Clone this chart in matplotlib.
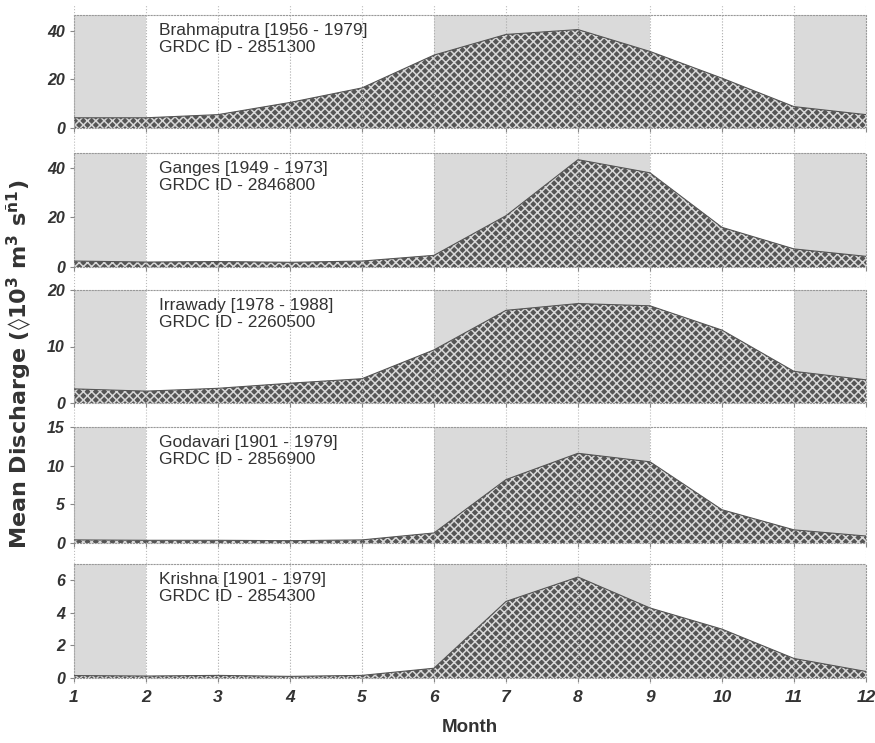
import numpy as np
import matplotlib
matplotlib.use('Agg')
import matplotlib.pyplot as plt

plt.rcParams['font.family'] = ['Liberation Sans', 'DejaVu Sans']
plt.rcParams['mathtext.fontset'] = 'custom'
plt.rcParams['mathtext.rm'] = 'DejaVu Sans:bold'
plt.rcParams['mathtext.default'] = 'rm'
plt.rcParams['hatch.linewidth'] = 1.1

months = np.arange(1, 13)

rivers = ['Brahmaputra [1956 - 1979]', 'Ganges [1949 - 1973]', 'Irrawady [1978 - 1988]',
          'Godavari [1901 - 1979]', 'Krishna [1901 - 1979]']
grdc_ids = ['2851300', '2846800', '2260500', '2856900', '2854300']

brahmaputra = [4.2, 4.2, 5.5, 10.5, 16.5, 30.0, 38.5, 40.5, 31.5, 20.5, 8.8, 5.5]
ganges = [2.4, 2.0, 2.2, 1.9, 2.4, 4.7, 20.7, 43.3, 38.0, 16.0, 7.3, 4.3]
irrawady = [2.5, 2.1, 2.6, 3.5, 4.3, 9.4, 16.4, 17.6, 17.2, 12.9, 5.6, 4.1]
godavari = [0.4, 0.35, 0.35, 0.3, 0.4, 1.3, 8.2, 11.6, 10.5, 4.3, 1.7, 0.9]
krishna = [0.15, 0.12, 0.16, 0.1, 0.16, 0.6, 4.7, 6.2, 4.3, 3.0, 1.2, 0.4]
series = [brahmaputra, ganges, irrawady, godavari, krishna]

ylims = [46.5, 46, 20, 15, 7]
yticks = [[0, 20, 40], [0, 20, 40], [0, 10, 20], [0, 5, 10, 15], [0, 2, 4, 6]]
shaded = [(1, 2), (6, 9), (11, 12)]

# panel top/bottom in pixels (from top of a 743 px figure)
panel_px = [(15, 128), (153, 267), (290, 403), (427, 543), (564, 678)]

W, H = 875, 743
fig = plt.figure(figsize=(W / 100, H / 100), dpi=100)
left, right = 74 / W, 866 / W

# background grid running through the gaps between panels
bg = fig.add_axes([left, 1 - 684 / H, right - left, (684 - 4) / H], zorder=0)
bg.set_xlim(1, 12)
bg.set_xticks(months)
bg.grid(axis='x', color='#bbbbbb', ls=':', lw=0.8)
bg.tick_params(length=0, labelbottom=False, labelleft=False)
bg.set_yticks([])
for s in bg.spines.values():
    s.set_visible(False)
bg.patch.set_alpha(0)

for i, (top, bot) in enumerate(panel_px):
    ax = fig.add_axes([left, 1 - bot / H, right - left, (bot - top) / H], zorder=1)
    for a, b in shaded:
        ax.axvspan(a, b, color='#dadada', lw=0, zorder=0)
    ax.fill_between(months, 0, series[i], facecolor='#555555', edgecolor='#d8d8d8',
                    hatch='xxxx', lw=0, zorder=2)
    ax.plot(months, series[i], color='#555555', lw=0.8, zorder=3)
    ax.set_xlim(1, 12)
    ax.set_ylim(0, ylims[i])
    ax.set_yticks(yticks[i])
    ax.set_xticks(months)
    ax.grid(axis='x', color='#aaaaaa', ls=':', lw=0.8, zorder=1)
    ax.set_axisbelow(False)
    for s in ax.spines.values():
        s.set_color('#999999')
        s.set_linestyle(':')
        s.set_linewidth(0.8)
    ax.tick_params(axis='both', length=3, color='#888888', labelsize=11.5, labelcolor='#333333')
    for lab in ax.get_yticklabels():
        lab.set_fontweight('bold')
        lab.set_fontstyle('italic')
    if i < len(panel_px) - 1:
        ax.tick_params(axis='x', labelbottom=False)
    else:
        for lab in ax.get_xticklabels():
            lab.set_fontweight('bold')
            lab.set_fontstyle('italic')
        ax.tick_params(axis='x', labelsize=12.5, pad=6)
    ax.text(0.107, 0.93, rivers[i] + '\nGRDC ID - ' + grdc_ids[i], transform=ax.transAxes,
            ha='left', va='top', fontsize=12.5, color='#333333', linespacing=1.15, zorder=4)

fig.text(0.5 * (left + right), 1 - 728 / H, 'Month', ha='center', va='center',
         fontsize=13.5, fontweight='bold', color='#333333')
fig.text(19 / W, 1 - 364 / H, r'Mean Discharge (◊10$^{3}$ m$^{3}$ s$^{ñ1}$)', rotation=90,
         ha='center', va='center', fontsize=16, fontweight='bold', color='#333333',
         family='DejaVu Sans')

fig.savefig('out.png', dpi=100)
